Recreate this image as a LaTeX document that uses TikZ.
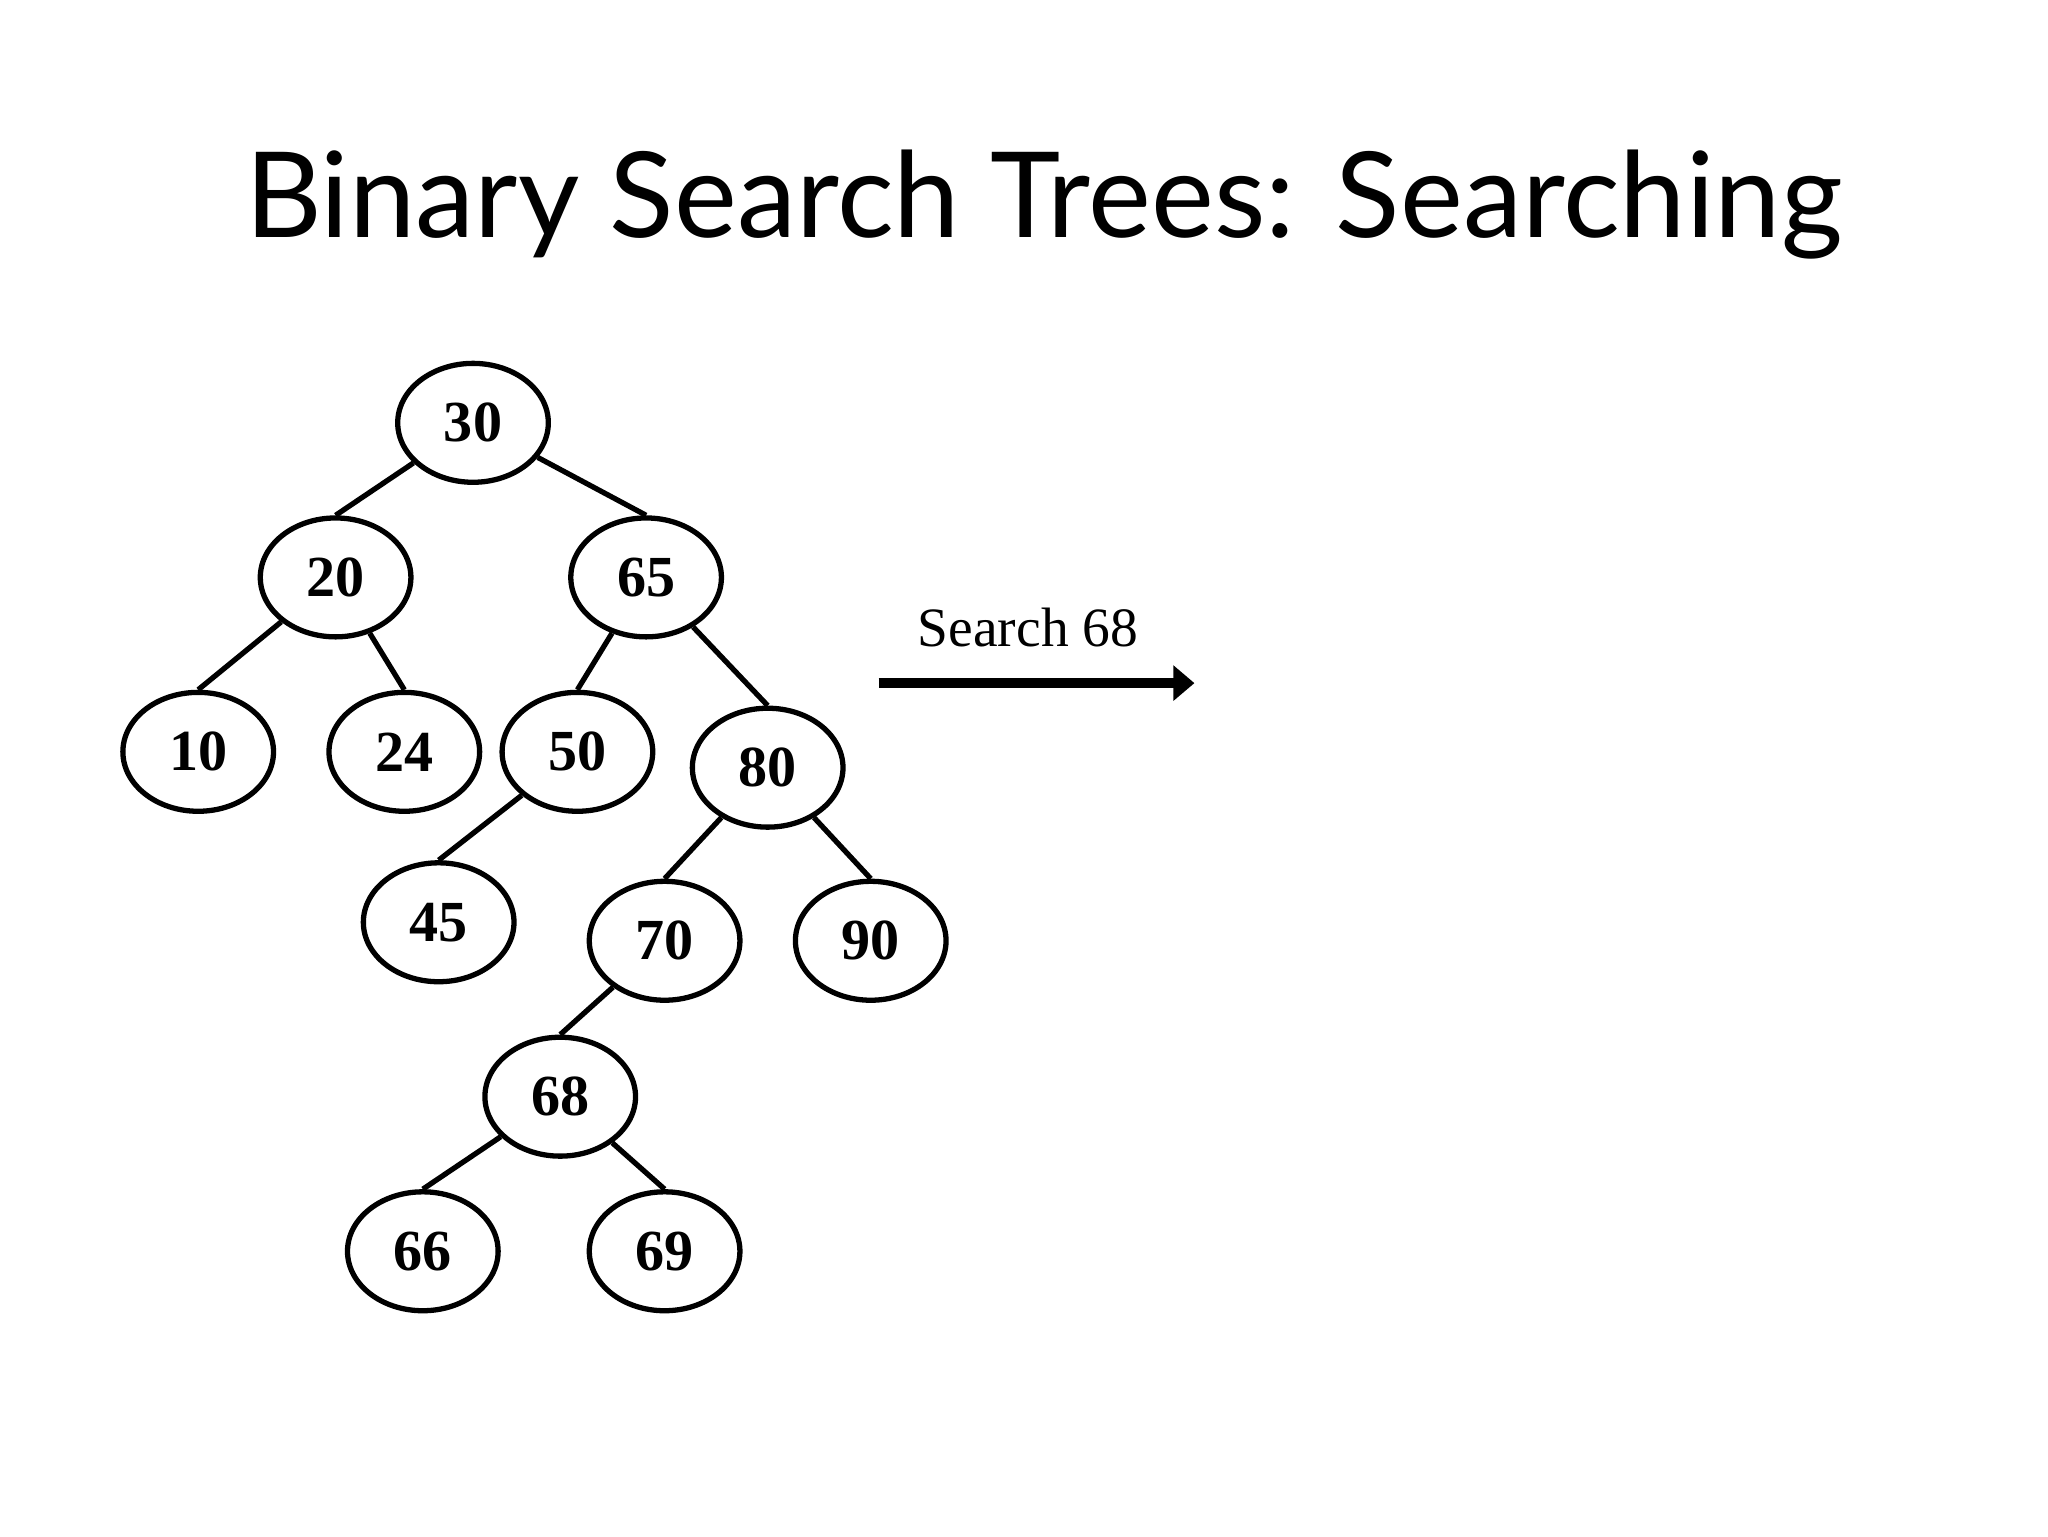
\documentclass[tikz,border=0pt]{standalone}
\usepackage{fontspec}
\setmainfont{Liberation Serif}
\newfontfamily\titlefont{Lato}
\usetikzlibrary{shapes.geometric,arrows.meta}
\begin{document}
\begin{tikzpicture}[x=1pt,y=-1pt,
  bst/.style={ellipse,draw,line width=4pt,minimum width=114pt,minimum height=90pt,inner sep=0pt,font=\fontsize{44}{44}\selectfont\bfseries},
  edge/.style={line width=4pt}]
\useasboundingbox (0,0) rectangle (1550,1162.5);
\fill[white] (0,0) rectangle (1550,1162.5);
\node[font=\titlefont\fontsize{90}{90}\selectfont] (title) at (790,155) {Binary Search Trees: Searching};
\node[bst] (n30) at (358,320) {30};
\node[bst] (n20) at (254,437) {20};
\node[bst] (n65) at (489,437) {65};
\node[bst] (n10) at (150,569) {10};
\node[bst] (n24) at (306,569) {24};
\node[bst] (n50) at (437,569) {50};
\node[bst] (n80) at (581,581) {80};
\node[bst] (n45) at (332,698) {45};
\node[bst] (n70) at (503,712) {70};
\node[bst] (n90) at (659,712) {90};
\node[bst] (n68) at (424,830) {68};
\node[bst] (n66) at (320,947) {66};
\node[bst] (n69) at (503,947) {69};
\foreach \p/\c in {n30/n20,n30/n65,n20/n10,n20/n24,n65/n50,n65/n80,n50/n45,n80/n70,n80/n90,n70/n68,n68/n66,n68/n69}
  \draw[edge] (\p) -- (\c.north);
\node[font=\fontsize{42}{42}\selectfont] (lbl) at (778,475) {Search 68};
\coordinate (a1) at (665,517);
\coordinate (a2) at (904,517);
\draw[line width=8pt,-{Triangle[length=16pt,width=26pt]}] (a1) -- (a2);
\end{tikzpicture}
\end{document}
